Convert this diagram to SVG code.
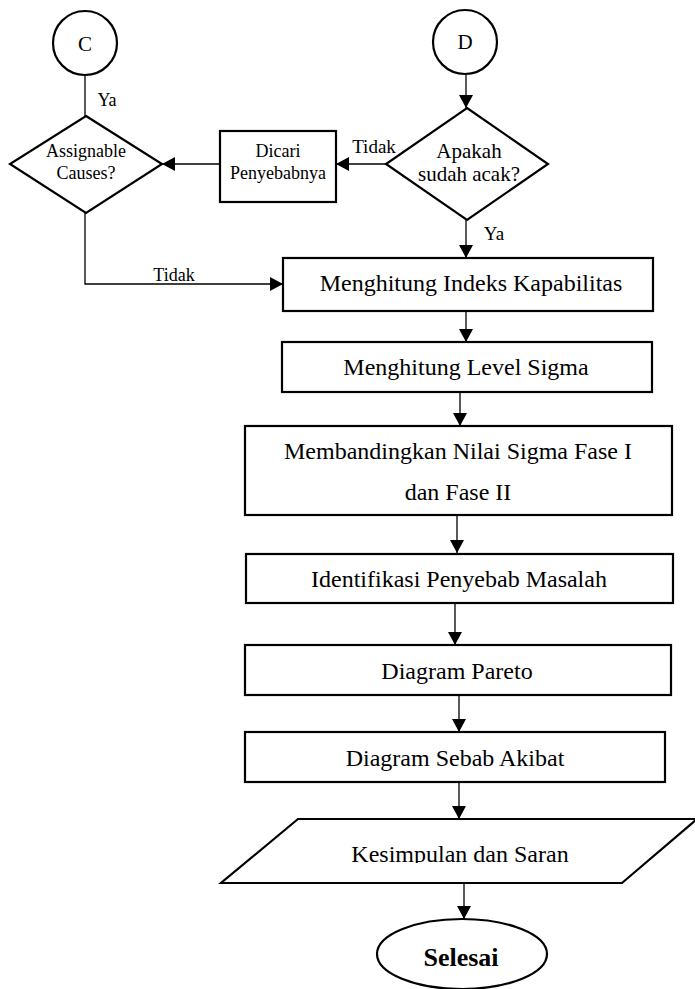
<svg xmlns="http://www.w3.org/2000/svg" width="695" height="989" viewBox="0 0 695 989">
  <style>
    .shape { fill: #fff; stroke: #000; stroke-width: 2.2; }
    .conn { fill: none; stroke: #000; stroke-width: 1.3; }
    text { font-family: "Liberation Serif", "Times New Roman", serif; fill: #000; text-anchor: middle; }
    .big { font-size: 24px; }
    .mid { font-size: 21px; }
    .small { font-size: 18px; }
    .lbl { font-size: 19px; }
    .bold { font-size: 26px; font-weight: bold; }
  </style>
  <defs>
    <marker id="arrow" markerUnits="userSpaceOnUse" markerWidth="13" markerHeight="14" refX="13" refY="7" orient="auto">
      <path d="M0,0 L13,7 L0,14 z" fill="#000"/>
    </marker>
    <clipPath id="clipKes">
      <rect x="200" y="800" width="495" height="63"/>
    </clipPath>
  </defs>

  <!-- connectors -->
  <g id="connectors">
    <line class="conn" x1="85" y1="76" x2="85" y2="116"/>
    <line class="conn" x1="466" y1="75" x2="466" y2="108" marker-end="url(#arrow)"/>
    <line class="conn" x1="386" y1="164" x2="336" y2="164" marker-end="url(#arrow)"/>
    <line class="conn" x1="220" y1="164" x2="162" y2="164" marker-end="url(#arrow)"/>
    <polyline class="conn" points="85,213 85,284 283,284" marker-end="url(#arrow)"/>
    <line class="conn" x1="466" y1="220" x2="466" y2="258" marker-end="url(#arrow)"/>
    <line class="conn" x1="466" y1="311" x2="466" y2="342" marker-end="url(#arrow)"/>
    <line class="conn" x1="460" y1="392" x2="460" y2="426" marker-end="url(#arrow)"/>
    <line class="conn" x1="457" y1="515" x2="457" y2="553" marker-end="url(#arrow)"/>
    <line class="conn" x1="455" y1="604" x2="455" y2="645" marker-end="url(#arrow)"/>
    <line class="conn" x1="459" y1="695" x2="459" y2="732" marker-end="url(#arrow)"/>
    <line class="conn" x1="459" y1="782" x2="459" y2="819" marker-end="url(#arrow)"/>
    <line class="conn" x1="464" y1="883" x2="464" y2="919" marker-end="url(#arrow)"/>
    <text class="small" x="107" y="106">Ya</text>
    <text class="lbl" x="374" y="153">Tidak</text>
    <text class="lbl" x="494" y="240">Ya</text>
    <text class="small" x="174" y="281">Tidak</text>
  </g>

  <!-- connector C -->
  <g id="nodeC">
    <circle class="shape" cx="85" cy="43" r="32"/>
    <text class="mid" x="85" y="51">C</text>
  </g>

  <!-- connector D -->
  <g id="nodeD">
    <circle class="shape" cx="465" cy="42" r="32"/>
    <text class="mid" x="465" y="49">D</text>
  </g>

  <!-- decision: assignable causes -->
  <g id="assignable">
    <polygon class="shape" points="86,116 162,164 86,213 10,164"/>
    <text class="small" x="86" y="157">Assignable</text>
    <text class="small" x="86" y="179">Causes?</text>
  </g>

  <!-- process: find causes -->
  <g id="dicari">
    <rect class="shape" x="220" y="131" width="116" height="71"/>
    <text class="small" x="278" y="157">Dicari</text>
    <text class="small" x="278" y="179">Penyebabnya</text>
  </g>

  <!-- decision: random check -->
  <g id="apakah">
    <polygon class="shape" points="467,108 548,164 467,220 386,164"/>
    <text class="mid" x="469" y="158">Apakah</text>
    <text class="mid" x="469" y="181">sudah acak?</text>
  </g>

  <g id="indeks">
    <rect class="shape" x="283" y="258" width="370" height="53"/>
    <text class="big" x="471" y="291">Menghitung Indeks Kapabilitas</text>
  </g>

  <g id="level">
    <rect class="shape" x="282" y="342" width="370" height="50"/>
    <text class="big" x="466" y="375">Menghitung Level Sigma</text>
  </g>

  <g id="membandingkan">
    <rect class="shape" x="245" y="426" width="427" height="89"/>
    <text class="big" x="458" y="459">Membandingkan Nilai Sigma Fase I</text>
    <text class="big" x="458" y="500">dan Fase II</text>
  </g>

  <g id="identifikasi">
    <rect class="shape" x="246" y="554" width="427" height="49"/>
    <text class="big" x="459" y="587">Identifikasi Penyebab Masalah</text>
  </g>

  <g id="pareto">
    <rect class="shape" x="245" y="645" width="426" height="50"/>
    <text class="big" x="457" y="679">Diagram Pareto</text>
  </g>

  <g id="sebab">
    <rect class="shape" x="245" y="732" width="420" height="50"/>
    <text class="big" x="455" y="766">Diagram Sebab Akibat</text>
  </g>

  <!-- output: conclusion -->
  <g id="kesimpulan">
    <polygon class="shape" points="298,819 697,819 622,883 221,883"/>
    <text class="big" x="460" y="862" clip-path="url(#clipKes)">Kesimpulan dan Saran</text>
  </g>

  <!-- terminator -->
  <g id="selesai">
    <ellipse class="shape" cx="462" cy="954" rx="85" ry="35"/>
    <text class="bold" x="461" y="966">Selesai</text>
  </g>
</svg>
